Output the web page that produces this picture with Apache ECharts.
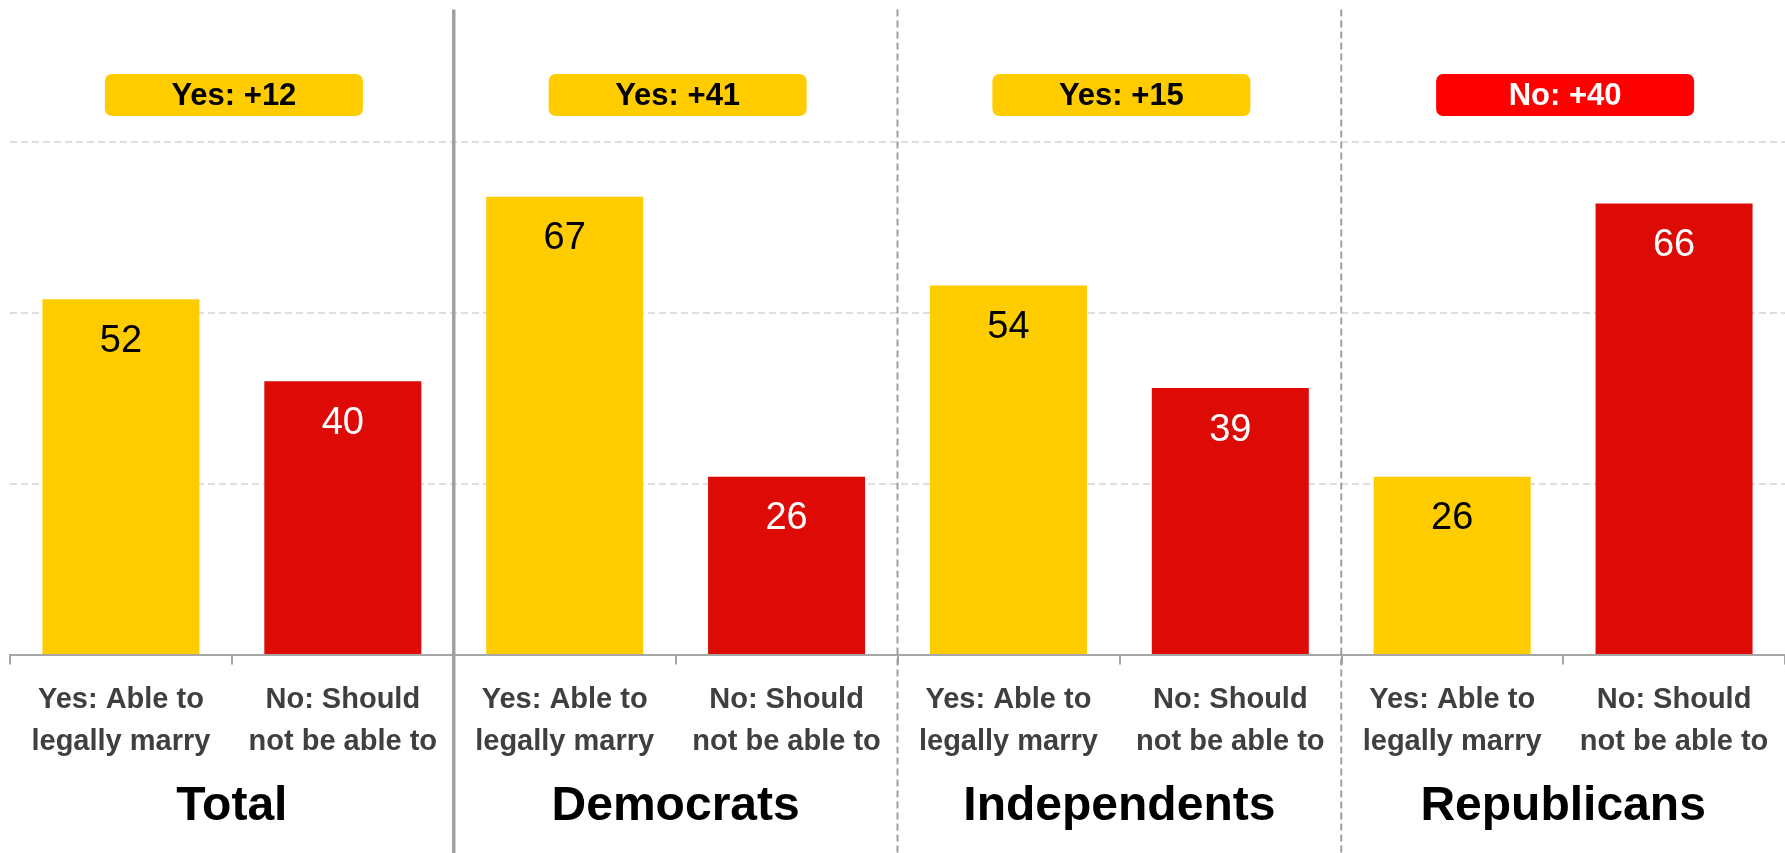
<!DOCTYPE html>
<html>
<head>
<meta charset="utf-8">
<script src="https://cdn.jsdelivr.net/npm/echarts@6/dist/echarts.min.js"></script>
<style>
  html, body { margin: 0; padding: 0; background: #ffffff; }
  #chart { width: 1785px; height: 853px; }
</style>
</head>
<body>
<div id="chart"></div>
<script>
// ---- Data ----
const groups = ['Total', 'Democrats', 'Independents', 'Republicans'];
const answers = ['Yes: Able to\nlegally marry', 'No: Should\nnot be able to'];
const yesValues = [52, 67, 54, 26];
const noValues = [40, 26, 39, 66];
const badgeLabels = ['Yes: +12', 'Yes: +41', 'Yes: +15', 'No: +40'];
const badgeSides = ['yes', 'yes', 'yes', 'no'];
const gridValues = [25, 50, 75];

// ---- Styling / layout constants ----
const FONT = '"Liberation Sans", Arial, Helvetica, sans-serif';
const YELLOW = '#FFCC00';
const RED_BAR = '#DD0A06';
const RED_BADGE = '#FF0000';
const GRID = { left: 10, right: -4, top: 9.5, bottom: 198.5 };
const Y_MAX = 94.4;   // visible top of the plot area
const BADGE_TOP = 74, BADGE_W = 258, BADGE_H = 42, BADGE_SHIFT = 2;
const PAGE_H = 853;

// categories: one per group/answer pair
const categories = [];
const barData = [];
groups.forEach((g, gi) => {
  answers.forEach((a, ai) => {
    categories.push(g + ' | ' + a);
    const isYes = ai === 0;
    barData.push({
      value: isYes ? yesValues[gi] : noValues[gi],
      itemStyle: { color: isYes ? YELLOW : RED_BAR },
      label: { color: isYes ? '#000000' : '#ffffff' }
    });
  });
});

const chart = echarts.init(document.getElementById('chart'), null, { renderer: 'canvas' });

const option = {
  animation: false,
  backgroundColor: '#ffffff',
  textStyle: { fontFamily: FONT },
  grid: [
    Object.assign({ containLabel: false }, GRID),
    Object.assign({ containLabel: false }, GRID)
  ],
  xAxis: [
    {
      type: 'category',
      gridIndex: 0,
      data: categories,
      position: 'bottom',
      z: 3,
      axisLine: { show: true, lineStyle: { color: '#a6a6a6', width: 2 } },
      axisTick: { show: true, length: 10, lineStyle: { color: '#a6a6a6', width: 2 } },
      axisLabel: {
        interval: 0,
        margin: 24,
        fontFamily: FONT,
        fontWeight: 'bold',
        fontSize: 29,
        lineHeight: 42,
        color: '#3f3f3f',
        formatter: (v, i) => answers[i % answers.length]
      },
      splitLine: { show: false }
    },
    {
      type: 'category',
      gridIndex: 1,
      data: groups,
      position: 'bottom',
      axisLine: { show: false },
      axisTick: { show: false },
      axisLabel: {
        interval: 0,
        margin: 128,
        fontFamily: FONT,
        fontWeight: 'bold',
        fontSize: 48,
        lineHeight: 48,
        color: '#000000'
      },
      splitLine: { show: false }
    }
  ],
  yAxis: [
    {
      type: 'value',
      gridIndex: 0,
      min: 0,
      max: Y_MAX,
      axisLine: { show: false },
      axisTick: { show: false },
      axisLabel: { show: false },
      splitLine: { show: false }
    },
    {
      type: 'value',
      gridIndex: 1,
      min: 0,
      max: Y_MAX,
      show: false,
      splitLine: { show: false }
    }
  ],
  series: [
    {
      // carrier for the horizontal dashed gridlines, drawn beneath the bars
      type: 'bar',
      xAxisIndex: 0,
      yAxisIndex: 0,
      data: [],
      z: 0,
      silent: true,
      markLine: {
        z: 0,
        silent: true,
        symbol: 'none',
        label: { show: false },
        lineStyle: { color: '#d4d4d4', width: 1.5, type: [7, 4] },
        data: gridValues.map(v => ({ yAxis: v }))
      }
    },
    {
      type: 'bar',
      xAxisIndex: 0,
      yAxisIndex: 0,
      data: barData,
      barWidth: 157,
      barGap: '-100%',
      label: {
        show: true,
        position: 'insideTop',
        distance: 23,
        fontFamily: FONT,
        fontSize: 38,
        lineHeight: 38
      },
      z: 2
    },
    {
      type: 'custom',
      xAxisIndex: 1,
      yAxisIndex: 1,
      clip: false,
      z: 5,
      data: groups.map((g, i) => [i, 0]),
      encode: { x: 0, y: 1 },
      renderItem: function (params, api) {
        const i = api.value(0);
        const cx = api.coord([i, 0])[0];
        const band = api.size([1, 0])[0];
        const isYes = badgeSides[i] === 'yes';
        const children = [
          {
            type: 'rect',
            shape: { x: cx - BADGE_W / 2 + BADGE_SHIFT, y: BADGE_TOP, width: BADGE_W, height: BADGE_H, r: 7 },
            style: { fill: isYes ? YELLOW : RED_BADGE }
          },
          {
            type: 'text',
            style: {
              text: badgeLabels[i],
              x: cx + BADGE_SHIFT,
              y: BADGE_TOP + BADGE_H / 2 + 1,
              align: 'center',
              verticalAlign: 'middle',
              fontFamily: FONT,
              fontWeight: 'bold',
              fontSize: 31,
              fill: isYes ? '#000000' : '#ffffff'
            }
          }
        ];
        if (i > 0) {
          const bx = cx - band / 2;
          const solid = i === 1;
          children.push({
            type: 'line',
            shape: { x1: bx, y1: GRID.top, x2: bx, y2: PAGE_H },
            style: {
              stroke: '#a0a0a0',
              lineWidth: solid ? 3.5 : 2,
              lineDash: solid ? null : [7, 4]
            }
          });
        }
        return { type: 'group', children: children };
      }
    }
  ]
};

chart.setOption(option);
</script>
</body>
</html>
